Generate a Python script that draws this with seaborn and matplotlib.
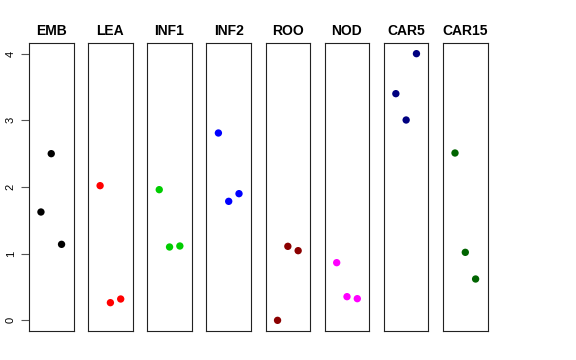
import matplotlib
matplotlib.use("Agg")
import matplotlib.pyplot as plt
import seaborn as sns
import pandas as pd

sns.set_style("white")
plt.rcParams['font.family'] = ['Liberation Sans', 'DejaVu Sans']
plt.rcParams['text.color'] = 'black'
plt.rcParams['ytick.color'] = 'black'
plt.rcParams['axes.labelcolor'] = 'black'

tissues = ["EMB", "LEA", "INF1", "INF2", "ROO", "NOD", "CAR5", "CAR15"]
colors = ["#000000", "#FF0000", "#00CD00", "#0000FF", "#8B0000", "#FF00FF", "#000080", "#006400"]
positions = [1, 2, 3]
emb = [1.625, 2.50, 1.14]
lea = [2.02, 0.265, 0.32]
inf1 = [1.96, 1.10, 1.115]
inf2 = [2.81, 1.785, 1.90]
roo = [0.0, 1.11, 1.045]
nod = [0.865, 0.355, 0.325]
car5 = [3.40, 3.005, 4.0]
car15 = [2.51, 1.02, 0.62]
values = [emb, lea, inf1, inf2, roo, nod, car5, car15]
yticks = [0, 1, 2, 3, 4]

W, H = 576, 360
fig = plt.figure(figsize=(W / 100, H / 100), dpi=100)

left0, step, width = 29, 59.15, 44.5
top, bottom = 43, 331

for i, (name, col, vals) in enumerate(zip(tissues, colors, values)):
    l = left0 + step * i
    ax = fig.add_axes([l / W, 1 - bottom / H, width / W, (bottom - top) / H])
    df = pd.DataFrame({"x": positions, "y": vals})
    sns.scatterplot(data=df, x="x", y="y", ax=ax, color=col, s=28,
                    edgecolor="none", linewidth=0)
    ax.set_xlim(-0.16, 4.16)
    ax.set_ylim(-0.16, 4.16)
    ax.set_xticks([])
    ax.set_xlabel("")
    ax.set_ylabel("")
    for sp in ax.spines.values():
        sp.set_visible(True)
        sp.set_color("#222222")
        sp.set_linewidth(0.8)
    ax.set_title(name, fontsize=10, fontweight="bold", pad=6, color="black")
    if i == 0:
        ax.set_yticks(yticks)
        ax.set_yticklabels([str(t) for t in yticks], rotation=90, va="center", fontsize=8)
        ax.tick_params(axis="y", direction="out", length=5.5, width=0.8,
                       color="#555555", labelcolor="black", pad=4, left=True)
    else:
        ax.set_yticks([])

fig.savefig("out.png", dpi=100)
